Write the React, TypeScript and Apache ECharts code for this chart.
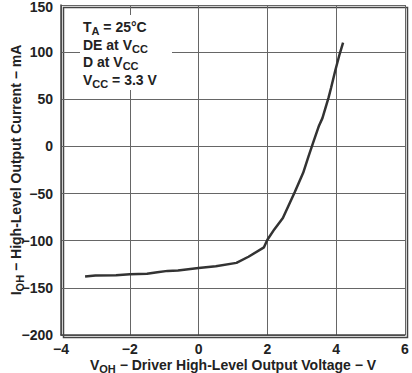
import React, { useEffect, useRef } from "react";
import * as echarts from "echarts";

const xTicks = [-4, -2, 0, 2, 4, 6];
const yTicks = [-200, -150, -100, -50, 0, 50, 100, 150];
const voltage = [-3.3, -3.0, -2.4, -2.0, -1.5, -1.2, -0.9, -0.6, 0, 0.5, 1.1, 1.45, 1.9, 2.0, 2.2, 2.45, 2.6, 2.8, 3.04, 3.2, 3.33, 3.5, 3.6, 3.78, 3.85, 3.97, 4.1, 4.2];
const current = [-138, -137, -136.5, -135.5, -135, -133.5, -132, -131.5, -129, -127, -123.5, -117, -107, -99, -88, -76, -64, -48, -28, -10, 4, 22, 30, 52, 62, 80, 98, 110];
const noteLines = ["T{sub|A} = 25°C", "DE at V{sub|CC}", "D at V{sub|CC}", "V{sub|CC} = 3.3 V"];

const FONT = "'Liberation Sans', Arial, sans-serif";

export default function App() {
  const ref = useRef<HTMLDivElement>(null);
  useEffect(() => {
    if (!ref.current) return;
    const chart = echarts.init(ref.current, null, { renderer: "svg" });
    const sub = { fontSize: 11, fontWeight: "bold", fontFamily: FONT, color: "#222", padding: [8, 0, 0, 0] };
    const base = { fontSize: 14, fontWeight: "bold", fontFamily: FONT, color: "#222" };
    const fmt = (v: number) => (v < 0 ? "−" + Math.abs(v) : String(v));
    const yMax = yTicks[yTicks.length - 1];
    chart.setOption({
      animation: false,
      grid: { left: 61, right: 7, top: 5, bottom: 38, outerBoundsMode: "none", containLabel: false },
      xAxis: {
        type: "value",
        min: xTicks[0],
        max: xTicks[xTicks.length - 1],
        interval: 2,
        name: "V{sub|OH} − Driver High-Level Output Voltage − V",
        nameLocation: "middle",
        nameGap: 20,
        nameMoveOverlap: false,
        nameTextStyle: { ...base, rich: { sub } },
        axisLine: { show: true, onZero: false, lineStyle: { color: "#444", width: 1.5 } },
        axisTick: { show: false },
        axisLabel: { ...base, margin: 7, formatter: fmt },
        splitLine: { show: true, lineStyle: { color: "#666", width: 1 } },
      },
      yAxis: {
        type: "value",
        min: yTicks[0],
        max: yMax,
        interval: 50,
        name: "I{sub|OH} − High-Level Output Current − mA",
        nameLocation: "middle",
        nameGap: 36,
        nameMoveOverlap: false,
        nameTextStyle: { ...base, rich: { sub } },
        axisLine: { show: true, onZero: false, lineStyle: { color: "#444", width: 1.5 } },
        axisTick: { show: false },
        axisLabel: {
          ...base,
          margin: 8,
          formatter: (v: number) => (v === yMax ? "{top|" + fmt(v) + "}" : fmt(v)),
          rich: { top: { ...base, padding: [4, 0, 0, 0] } },
        },
        splitLine: { show: true, lineStyle: { color: "#666", width: 1 } },
      },
      graphic: [
        {
          type: "rect",
          left: 61,
          top: 5,
          shape: { width: 405 - 61, height: 335 - 5 },
          style: { fill: "none", stroke: "#444", lineWidth: 1.5 },
          silent: true,
        },
        {
          type: "rect",
          left: 80,
          top: 15,
          shape: { width: 92, height: 75 },
          style: { fill: "#fff" },
          silent: true,
          z: 10,
        },
        ...noteLines.map((t, i) => ({
          type: "text",
          left: 83,
          top: 20 + i * 17.5,
          z: 11,
          style: { text: t, ...base, fill: "#222", rich: { sub: { ...sub, fill: "#222" } } },
        })),
      ],
      series: [
        {
          type: "line",
          data: voltage.map((v, i) => [v, current[i]]),
          showSymbol: false,
          smooth: false,
          lineStyle: { color: "#333", width: 2.5 },
          z: 5,
        },
      ],
    });
    return () => chart.dispose();
  }, []);
  return <div ref={ref} style={{ width: 412, height: 373, position: "absolute", left: 0, top: 0, background: "#fff" }} />;
}
